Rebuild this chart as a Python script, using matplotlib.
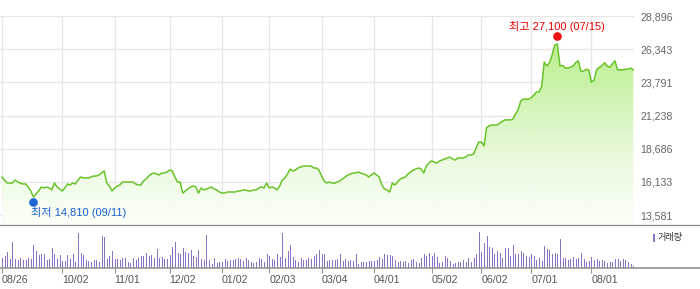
import matplotlib
matplotlib.use('Agg')
import matplotlib.pyplot as plt
import numpy as np
from matplotlib.lines import Line2D
from matplotlib.patches import Rectangle
from matplotlib.colors import LinearSegmentedColormap
from matplotlib.transforms import offset_copy

plt.rcParams['font.family'] = ['Liberation Sans', 'Noto Sans CJK KR', 'DejaVu Sans']

# ---------------- data ----------------
prices = [
    16500, 16270, 16040, 16040, 16040, 16270, 16120, 16040, 15970, 15970,
    15740, 15430, 14970, 15200, 15430, 15740, 15660, 15740, 15660, 15510,
    16040, 15740, 15580, 15430, 15660, 15970, 15890, 16040, 15970, 16270,
    16510, 16430, 16430, 16430, 16510, 16580, 16580, 16660, 16810, 16970,
    16040, 15810, 15430, 15660, 15810, 15890, 16120, 16120, 16120, 16120,
    16120, 15970, 15890, 15890, 16200, 16350, 16580, 16740, 16810, 16740,
    16660, 16810, 16810, 16890, 17040, 16970, 16510, 16120, 16120, 15270,
    15430, 15580, 15740, 15810, 15740, 15270, 15660, 15510, 15580, 15660,
    15740, 15580, 15510, 15350, 15270, 15270, 15350, 15350, 15350, 15350,
    15430, 15430, 15510, 15510, 15430, 15430, 15510, 15510, 15660, 15740,
    15660, 16040, 15660, 15740, 15660, 15510, 15810, 16270, 16430, 16740,
    17120, 16970, 17040, 17200, 17280, 17350, 17350, 17350, 17350, 17200,
    17200, 17040, 16580, 16200, 16040, 16120, 16040, 16040, 16120, 16200,
    16350, 16510, 16660, 16740, 16810, 16810, 16890, 16810, 16740, 16660,
    16510, 16660, 16810, 16660, 16510, 15890, 15580, 15510, 15350, 16040,
    15890, 16120, 16350, 16430, 16510, 16740, 16890, 17040, 17120, 17200,
    17120, 16810, 17350, 17580, 17740, 17660, 17580, 17740, 17810, 17890,
    17970, 18040, 17890, 17810, 17970, 17970, 17970, 18040, 18200, 18200,
    18270, 18740, 19200, 19200, 18890, 20300, 20450, 20500, 20500, 20500,
    20650, 20800, 20900, 20900, 20900, 20950, 21350, 21650, 22350, 22500,
    22500, 22500, 22600, 22800, 23050, 23050, 23450, 25350, 25050, 25300,
    25900, 26650, 26750, 25050, 25100, 24900, 24900, 24950, 25050, 25300,
    25450, 24650, 24650, 24800, 24750, 23800, 23950, 24750, 24950, 25050,
    25300, 25050, 24950, 25200, 25450, 24750, 24750, 24750, 24800, 24800,
    24900, 24750,
]

volumes = [
    250, 300, 400, 225, 650, 225, 200, 250, 200, 200,
    250, 225, 575, 425, 325, 350, 350, 200, 225, 500,
    350, 225, 325, 175, 175, 325, 225, 350, 150, 875,
    375, 325, 200, 175, 150, 200, 200, 150, 800, 775,
    225, 300, 425, 225, 225, 200, 250, 250, 150, 125,
    250, 200, 250, 300, 300, 375, 300, 325, 250, 475,
    250, 275, 225, 225, 325, 525, 650, 375, 350, 500,
    400, 375, 450, 300, 275, 450, 225, 200, 825, 200,
    100, 250, 125, 150, 150, 225, 175, 200, 200, 225,
    250, 225, 175, 250, 200, 150, 125, 150, 250, 225,
    150, 350, 300, 225, 200, 350, 275, 875, 250, 425,
    575, 275, 200, 150, 250, 200, 200, 250, 225, 300,
    350, 450, 350, 350, 175, 200, 200, 200, 225, 350,
    175, 225, 175, 200, 175, 350, 100, 150, 150, 150,
    175, 175, 175, 200, 275, 225, 350, 325, 325, 300,
    200, 150, 175, 150, 175, 125, 200, 225, 150, 125,
    250, 350, 300, 375, 300, 375, 275, 125, 150, 300,
    250, 175, 100, 125, 150, 150, 200, 150, 250, 150,
    250, 350, 900, 400, 625, 800, 525, 500, 350, 425,
    375, 250, 500, 500, 300, 575, 350, 350, 425, 375,
    300, 275, 350, 300, 200, 250, 175, 550, 475, 450,
    350, 375, 350, 725, 250, 250, 200, 225, 275, 225,
    250, 375, 225, 150, 175, 275, 200, 225, 175, 200,
    175, 125, 150, 150, 225, 225, 175, 225, 200, 150,
    100, 50,
]

tick_idx = [0, 23, 43, 64, 84, 102, 122, 142, 164, 183, 202, 225]
tick_labels = ['08/26', '10/02', '11/01', '12/02', '01/02', '02/03',
               '03/04', '04/01', '05/02', '06/02', '07/01', '08/01']
y_ticks = [13581, 16133, 18686, 21238, 23791, 26343, 28896]

high_idx, high_val, high_date = 212, 27100, '07/15'
low_idx, low_val, low_date = 12, 14810, '09/11'

# ---------------- layout ----------------
W, H = 700, 289
fig = plt.figure(figsize=(W / 100, H / 100), dpi=100)
fig.patch.set_facecolor('white')

def fy(py):
    return 1 - py / H

X_RIGHT = 634
TOP, MID, BOT = 16, 225, 268
N = len(prices)
x = np.arange(N)
px_per = (633.3 - 2) / (N - 1)
xlim = (-2 / px_per, (X_RIGHT - 2) / px_per)

ax = fig.add_axes([0, fy(MID), X_RIGHT / W, (MID - TOP) / H])
axv = fig.add_axes([0, fy(BOT), X_RIGHT / W, (BOT - MID) / H])

# ---------------- price panel ----------------
ymax = y_ticks[-1]
step = (y_ticks[-1] - y_ticks[0]) / 6
ymin = y_ticks[0] - step * 10 / 33.17

grid_c = '#e6e6e6'
for t in tick_idx:
    ax.axvline(t, color=grid_c, lw=0.9, zorder=0)
for v in y_ticks:
    ax.axhline(v, color=grid_c, lw=0.9, zorder=0)

poly = ax.fill_between(x, prices, ymin, color='none', lw=0)
cmap = LinearSegmentedColormap.from_list(
    'g', [(0.0, '#fbfff8'), (0.3, '#eafade'), (0.65, '#c9f3a6'), (1.0, '#aee97a')])
grad = np.linspace(0, 1, 256).reshape(-1, 1)
im = ax.imshow(grad, extent=[xlim[0], xlim[1], ymin, ymax], origin='lower',
               aspect='auto', cmap=cmap, zorder=1, alpha=0.93)
im.set_clip_path(poly.get_paths()[0], transform=ax.transData)

ax.plot(x, prices, color='#68c42a', lw=1.1, zorder=3, solid_joinstyle='round')

ax.set_xlim(*xlim)
ax.set_ylim(ymin, ymax)
for s in ax.spines.values():
    s.set_visible(False)
ax.set_xticks([])
ax.yaxis.tick_right()
ax.set_yticks(y_ticks)
ax.set_yticklabels([f'{v:,}' for v in y_ticks])
ax.tick_params(axis='y', length=0, pad=4.5, labelsize=7.7, labelcolor='#666666')

# high / low markers
up = offset_copy(ax.transData, fig=fig, x=0, y=3.3, units='dots')
dn = offset_copy(ax.transData, fig=fig, x=0, y=-3.0, units='dots')
ax.plot([high_idx], [high_val], 'o', color='#ee1111', ms=5.2, transform=up,
        zorder=5, clip_on=False)
ax.plot([low_idx], [low_val], 'o', color='#1e64d2', ms=5.2, transform=dn,
        zorder=5, clip_on=False)
ax.annotate(f'최고 {high_val:,} ({high_date})', xy=(high_idx, high_val),
            xytext=(0, 13.3), textcoords='offset pixels', ha='center', va='center',
            color='#e60000', fontsize=8, annotation_clip=False, zorder=6)
ax.annotate(f'최저 {low_val:,} ({low_date})', xy=(low_idx, low_val),
            xytext=(-2.4, -13), textcoords='offset pixels', ha='left', va='center',
            color='#1a5fd0', fontsize=8, annotation_clip=False, zorder=6)

# ---------------- volume panel ----------------
bar_c = '#8c72c6'
axv.vlines(x, 0, volumes, color=bar_c, lw=0.55, antialiased=False)
axv.set_xlim(*xlim)
axv.set_ylim(0, max(volumes) * 43 / 36)
for s in axv.spines.values():
    s.set_visible(False)
axv.set_yticks([])
axv.set_xticks(tick_idx)
axv.set_xticklabels(tick_labels)
for lbl in axv.get_xticklabels():
    lbl.set_ha('left')
axv.tick_params(axis='x', length=3.6, width=0.8, color='#999999', pad=1.5,
                labelsize=7.7, labelcolor='#555555')

# separator lines spanning the full width
fig.add_artist(Line2D([0, 1], [fy(MID), fy(MID)], transform=fig.transFigure,
                      color='#8c8c8c', lw=0.9))
fig.add_artist(Line2D([0, 1], [fy(BOT), fy(BOT)], transform=fig.transFigure,
                      color='#8c8c8c', lw=1.1))

# legend
fig.add_artist(Rectangle((653 / W, fy(241.5)), 2.2 / W, 7.5 / H,
                         transform=fig.transFigure, color=bar_c, lw=0))
fig.text(658 / W, fy(237.8), '거래량', fontsize=6.6, color='#333333',
         va='center', ha='left')

fig.savefig('out.png', dpi=100, facecolor='white')
